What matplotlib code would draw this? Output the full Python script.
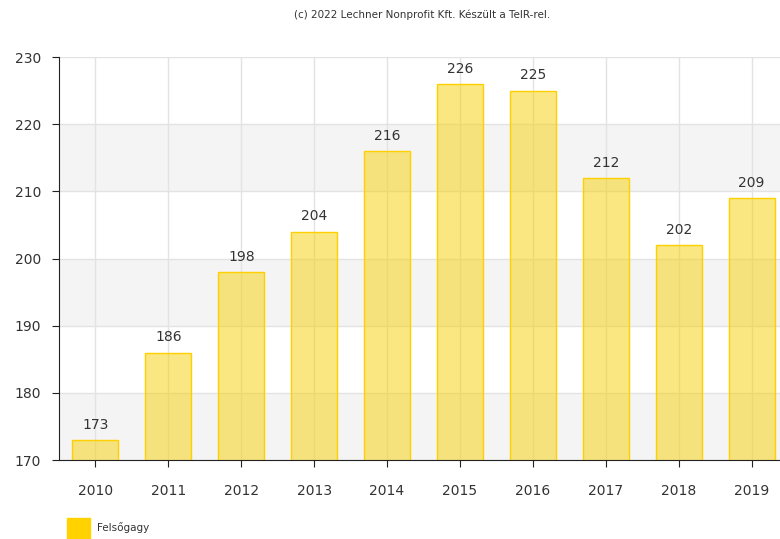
import matplotlib
matplotlib.use("Agg")
import matplotlib.pyplot as plt
from matplotlib.patches import Rectangle

years = ["2010", "2011", "2012", "2013", "2014", "2015", "2016", "2017", "2018", "2019"]
values = [173, 186, 198, 204, 216, 226, 225, 212, 202, 209]
y_ticks = [170, 180, 190, 200, 210, 220, 230]
series_name = "Felsőgagy"
credit = "(c) 2022 Lechner Nonprofit Kft. Készült a TeIR-rel."

fig = plt.figure(figsize=(7.8, 5.39), dpi=100)
ax = fig.add_axes([59 / 780, 79 / 539, 729 / 780, 403 / 539])

# alternating background bands
for lo in [170, 190, 210]:
    ax.axhspan(lo, lo + 10, color="#f4f4f4", zorder=0, lw=0)

x = list(range(len(years)))
ax.set_axisbelow(True)
ax.grid(axis="both", color="#e3e3e3", lw=1)
ax.bar(x, values, width=0.63, color=(0.97, 0.82, 0.02, 0.5),
       edgecolor="#ffd000", linewidth=1, zorder=2)

for xi, v in zip(x, values):
    ax.annotate(str(v), (xi, v), xytext=(0, 6), textcoords="offset points",
                ha="center", va="bottom", fontsize=10, color="#333333")

ax.set_xlim(-0.5, len(years) - 0.5)
ax.set_ylim(170, 230)
ax.set_yticks(y_ticks)
ax.set_xticks(x)
ax.set_xticklabels(years)

for s in ["top", "right"]:
    ax.spines[s].set_visible(False)
ax.spines["left"].set_color("#222222")
ax.spines["bottom"].set_color("#222222")
ax.tick_params(axis="y", length=5, pad=8, labelsize=10, labelcolor="#333333", color="#222222")
ax.tick_params(axis="x", length=5, pad=12, labelsize=10, labelcolor="#333333", color="#222222")

fig.text(422 / 780, 1 - 15 / 539, credit, ha="center", va="center", fontsize=7.5, color="#333333")

# legend
fig.patches.append(Rectangle((67 / 780, 1 - 539 / 539), 23 / 780, 21 / 539,
                             transform=fig.transFigure, color="#ffd200", figure=fig))
fig.text(97 / 780, 1 - 528 / 539, series_name, ha="left", va="center", fontsize=7.5, color="#333333")

fig.savefig("out.png", dpi=100)
